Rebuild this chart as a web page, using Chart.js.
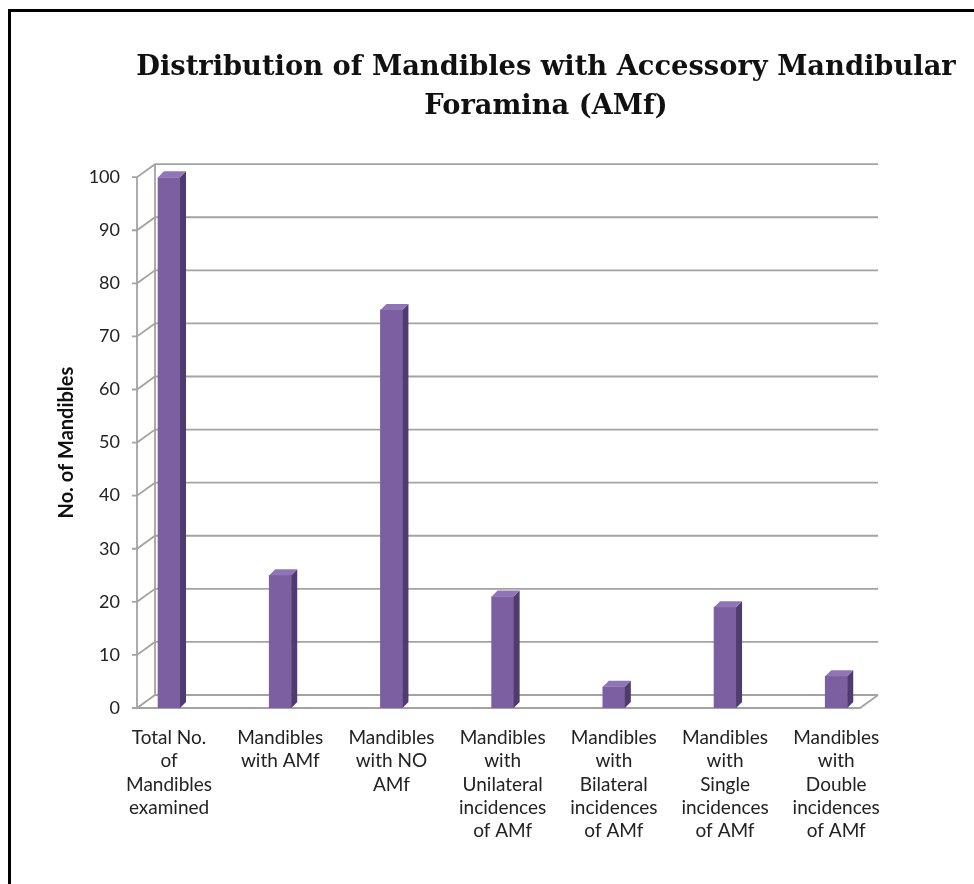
<!DOCTYPE html>
<html>
<head>
<meta charset="utf-8">
<script src="https://cdn.jsdelivr.net/npm/chart.js@4.4.0/dist/chart.umd.min.js"></script>
<style>
  html, body { margin: 0; padding: 0; background: #fff; overflow: hidden; }
  #frame { position: absolute; left: 8px; top: 9px; width: 1200px; height: 1000px;
           border-top: 3px solid #000; border-left: 3px solid #000; }
  #myChart { position: absolute; left: 0; top: 0; }
</style>
</head>
<body>
<div id="frame"></div>
<canvas id="myChart" width="1092" height="884"></canvas>
<script>
var categories = [
    ['Total No.', 'of', 'Mandibles', 'examined'],
    ['Mandibles', 'with AMf'],
    ['Mandibles', 'with NO', 'AMf'],
    ['Mandibles', 'with', 'Unilateral', 'incidences', 'of AMf'],
    ['Mandibles', 'with', 'Bilateral', 'incidences', 'of AMf'],
    ['Mandibles', 'with', 'Single', 'incidences', 'of AMf'],
    ['Mandibles', 'with', 'Double', 'incidences', 'of AMf']
];
var counts = [100, 25, 75, 21, 4, 19, 6];
var yTicks = [0, 10, 20, 30, 40, 50, 60, 70, 80, 90, 100];

var X_MIN = -0.288, WALL_END = 6.376;   // floor runs a bit past the last bar
var DX = 18, DY = 13;     // wall depth
var BX = 6, BY = 6;       // bar depth

// back wall + floor drawn like the 3d excel chart
var wall3d = {
    id: 'wall3d',
    beforeDatasetsDraw: function (chart) {
        var c = chart.ctx, ys = chart.scales.y, xs = chart.scales.x;
        var left = xs.getPixelForValue(X_MIN), right = xs.getPixelForValue(WALL_END) - DX;
        var y0 = ys.getPixelForValue(0), yTop = ys.getPixelForValue(100);
        c.save();
        c.strokeStyle = '#a3a3a3';
        c.lineWidth = 1.8;
        yTicks.forEach(function (v) {
            var y = ys.getPixelForValue(v);
            c.beginPath();
            c.moveTo(left - 5, y);
            c.lineTo(left, y);
            c.lineTo(left + DX, y - DY);
            c.lineTo(right + DX, y - DY);
            c.stroke();
        });
        c.beginPath();
        c.moveTo(left, y0); c.lineTo(right, y0); c.lineTo(right + DX, y0 - DY);
        c.moveTo(left, y0); c.lineTo(left, yTop);
        c.moveTo(left + DX, y0 - DY); c.lineTo(left + DX, yTop - DY);
        c.stroke();
        c.restore();
    },
    afterDatasetsDraw: function (chart) {
        var c = chart.ctx;
        chart.getDatasetMeta(0).data.forEach(function (bar) {
            var l = bar.x - bar.width / 2, r = bar.x + bar.width / 2;
            c.save();
            c.fillStyle = '#4f3b6f';
            c.beginPath();
            c.moveTo(r, bar.y); c.lineTo(r + BX, bar.y - BY);
            c.lineTo(r + BX, bar.base - BY); c.lineTo(r, bar.base);
            c.closePath(); c.fill();
            c.fillStyle = '#8f74b6';
            c.beginPath();
            c.moveTo(l, bar.y); c.lineTo(l + BX, bar.y - BY);
            c.lineTo(r + BX, bar.y - BY); c.lineTo(r, bar.y);
            c.closePath(); c.fill();
            c.restore();
        });
    }
};

var ctx = document.getElementById('myChart').getContext('2d');
var myChart = new Chart(ctx, {
    type: 'bar',
    data: {
        datasets: [{
            label: 'No. of Mandibles',
            data: counts.map(function (v, i) { return { x: i, y: v }; }),
            backgroundColor: '#7b5fa1',
            barThickness: 22
        }]
    },
    options: {
        responsive: false,
        animation: false,
        layout: { padding: 0 },
        plugins: {
            legend: { display: false },
            tooltip: { enabled: false },
            title: {
                display: true,
                text: ['Distribution of Mandibles with Accessory Mandibular', 'Foramina (AMf)'],
                color: '#111',
                font: { family: 'DejaVu Serif', size: 27.3, weight: 'bold', lineHeight: 1.45 },
                padding: { top: 48, bottom: 50 }
            }
        },
        scales: {
            x: {
                type: 'linear',
                offset: false,
                min: X_MIN,
                max: 8.3,
                grid: { display: false, drawTicks: false },
                border: { display: false },
                ticks: {
                    stepSize: 1,
                    includeBounds: false,
                    autoSkip: false,
                    maxRotation: 0,
                    padding: 18,
                    color: '#222',
                    font: { family: 'Lato', size: 19, lineHeight: 1.23 },
                    callback: function (v) { return categories[v] || ''; }
                },
                afterFit: function (s) { s.height = 176; }
            },
            y: {
                min: 0,
                max: 100,
                grid: { display: false, drawTicks: false },
                border: { display: false },
                ticks: {
                    stepSize: 10,
                    padding: 17,
                    color: '#222',
                    font: { family: 'Lato', size: 18 }
                },
                title: {
                    display: true,
                    text: 'No. of Mandibles',
                    color: '#111',
                    font: { family: 'Lato', size: 20, weight: 'bold', lineHeight: 1.2 },
                    padding: { top: 55, bottom: 0 }
                },
                afterFit: function (s) { s.width = 137; }
            }
        }
    },
    plugins: [wall3d]
});
</script>
</body>
</html>
